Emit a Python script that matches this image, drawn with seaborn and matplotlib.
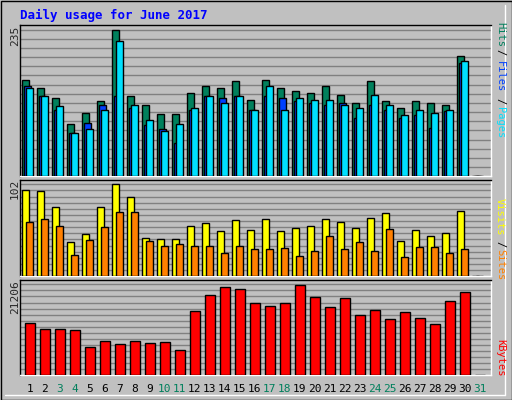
import numpy as np
import matplotlib
matplotlib.use("Agg")
import matplotlib.pyplot as plt
import seaborn as sns
import pandas as pd

days = list(range(1, 32))
hits = [155,142,126,83,101,121,235,129,114,99,99,134,145,142,152,123,155,142,137,134,145,131,118,153,121,109,120,117,115,193,0]
files = [144,128,106,69,86,114,129,110,82,75,53,106,128,125,129,107,129,125,121,118,115,118,93,115,107,94,98,78,104,182,0]
pages = [142,128,112,70,75,107,217,115,90,72,83,110,129,117,129,106,144,106,125,123,123,115,109,131,114,98,107,101,106,185,0]
visits = [96,95,77,38,47,77,102,88,43,41,41,56,59,50,62,51,64,50,53,56,63,60,53,65,70,39,51,45,48,72,0]
sites = [60,64,56,24,40,55,71,71,39,34,36,34,34,26,34,30,30,31,23,28,45,30,38,28,52,21,33,33,26,30,0]
kbytes = [12273,10875,10875,10642,6680,8078,7379,8078,7612,7845,5981,14992,18720,20584,20118,16856,16157,16856,21050,18254,15924,18021,14060,15225,13128,14759,13361,11953,17322,19419,0]
weekend = [3,4,10,11,17,18,24,25,31]

df = pd.DataFrame({"day": days, "kbytes": kbytes})

sns.set_style("white")
plt.rcParams['font.family'] = ['DejaVu Sans Mono', 'DejaVu Sans']
W, H = 512, 400
fig = plt.figure(figsize=(W/100, H/100), dpi=100, facecolor="#C0C0C0")
bg = "#C0C0C0"

def ax_px(x0, y0, x1, y1):
    return fig.add_axes([x0/W, 1-y1/H, (x1-x0)/W, (y1-y0)/H])

fig.add_artist(plt.Rectangle((0.5/W, 0.5/H), 1-1/W, 1-1/H, transform=fig.transFigure, fill=False, ec="black", lw=1))
fig.add_artist(plt.Line2D([5/W, 505/W], [1-395/H, 1-395/H], transform=fig.transFigure, color="white", lw=1))
fig.add_artist(plt.Line2D([505/W, 505/W], [1-395/H, 1-5/H], transform=fig.transFigure, color="white", lw=1))

X0, X1 = 20, 491
panels = [(24.7, 176.3, 235*151.6/146.7, 235/16),
          (180, 276.3, 102*96.3/92, 102/15),
          (280, 375.3, 21206*95.3/91, 21206/15)]
axes = []
for (y0, y1, top, step) in panels:
    ax = ax_px(X0, y0, X1, y1)
    ax.set_facecolor(bg)
    ax.set_xlim(0.35, 31.75)
    ax.set_ylim(0, top)
    for v in np.arange(step, top, step):
        ax.axhline(v, color="#808080", lw=1, zorder=0)
    ax.set_xticks([]); ax.set_yticks([])
    for s in ax.spines.values():
        s.set_color("black"); s.set_linewidth(1)
    ax.spines["bottom"].set_color("white"); ax.spines["right"].set_color("white")
    axes.append(ax)

d = np.array(days)
ec = dict(edgecolor="black", linewidth=1, zorder=3)
a = axes[0]
a.bar(d-0.27, hits, width=0.49, color="#00805C", **ec)
a.bar(d-0.13, files, width=0.49, color="#0040FF", **ec)
a.bar(d, pages, width=0.49, color="#00E0FF", **ec)
a = axes[1]
a.bar(d-0.27, visits, width=0.49, color="#FFFF00", **ec)
a.bar(d, sites, width=0.49, color="#FF8000", **ec)
a = axes[2]
sns.barplot(data=df, x="day", y="kbytes", native_scale=True, width=0.69, color="#FF0000",
            saturation=1, edgecolor="black", linewidth=1, ax=a, zorder=3)
a.set_xlim(0.35, 31.75); a.set_xlabel(""); a.set_ylabel(""); a.set_xticks([]); a.set_yticks([])

fig.text(20/W, 1-15/H, "Daily usage for June 2017", color="#0000FF", fontsize=9, fontweight="bold", va="center", ha="left")

fig.text(15/W, 1-36/H, "235", rotation=90, fontsize=8, ha="center", va="center")
fig.text(15/W, 1-189/H, "102", rotation=90, fontsize=8, ha="center", va="center")
fig.text(15/W, 1-297/H, "21206", rotation=90, fontsize=8, ha="center", va="center")

def rl(y, s, c):
    fig.text(500/W, 1-y/H, s, rotation=-90, fontsize=7.5, ha="center", va="center", color=c)
rl(35, "Hits", "#00805C"); rl(52, "/", "black"); rl(77, "Files", "#0040FF"); rl(101, "/", "black"); rl(123, "Pages", "#00E0FF")
rl(217, "Visits", "#FFFF00"); rl(244, "/", "black"); rl(265, "Sites", "#FF8000")
rl(358, "KBytes", "#FF0000")

for dd in days:
    xpx = X0 + (dd - 0.35) / (31.75 - 0.35) * (X1 - X0)
    fig.text(xpx/W, 1-389/H, str(dd), fontsize=8, ha="center", va="center",
             color="#00805C" if dd in weekend else "black")

fig.savefig("out.png", dpi=100, facecolor=fig.get_facecolor())
